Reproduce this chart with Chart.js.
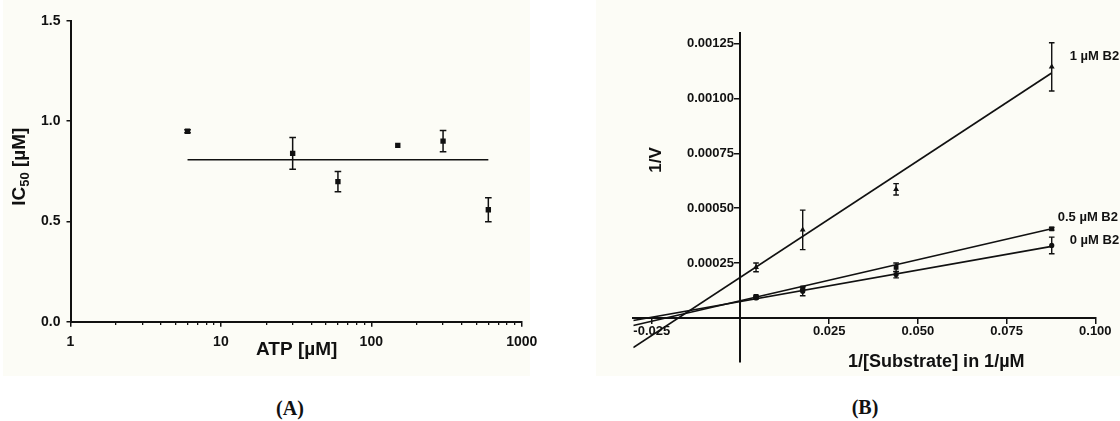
<!DOCTYPE html>
<html>
<head>
<meta charset="utf-8">
<script src="https://cdn.jsdelivr.net/npm/chart.js@4.4.1/dist/chart.umd.min.js"></script>
<style>
  html, body { margin: 0; padding: 0; background: #fff; }
  body { width: 1120px; height: 421px; position: relative; overflow: hidden; }
  .tint { position: absolute; background: #fcfcf6; }
  canvas { position: absolute; top: 0; }
  .caption { position: absolute; font: bold 20px "Liberation Serif", "Times New Roman", serif; color: #111;
             transform: translate(-50%, -50%); white-space: nowrap; }
</style>
</head>
<body>
<div class="tint" style="left:3px;top:0;width:527px;height:376px"></div>
<div class="tint" style="left:596px;top:0;width:524px;height:376px"></div>
<canvas id="chartA" width="560" height="380" style="left:0;width:560px;height:380px"></canvas>
<canvas id="chartB" width="560" height="380" style="left:560px;width:560px;height:380px"></canvas>
<div class="caption" style="left:290px;top:408px">(A)</div>
<div class="caption" style="left:865px;top:407px">(B)</div>
<script>
/* Panel A: IC50 vs ATP */
var atpConc = [6, 30, 60, 150, 300, 600];
var ic50Values = [0.949, 0.839, 0.698, 0.879, 0.900, 0.558];
var ic50Errors = [0.008, 0.079, 0.050, 0, 0.053, 0.060];
var meanLineX = [6, 600];
var meanLineY = [0.807, 0.807];
var yTicksA = [0, 0.5, 1.0, 1.5];
var xDecadesA = [1, 10, 100, 1000];

/* Panel B: double reciprocal plot */
var invSubstrate = [0.00439, 0.01754, 0.04386, 0.08772];
var invV1uM = [0.000230, 0.000401, 0.000586, 0.001144];
var err1uM = [0.000020, 0.000090, 0.000026, 0.000110];
var invV05uM = [0.0000982, 0.000136, 0.000230, 0.000406];
var err05uM = [0.000004, 0.000006, 0.000020, 0.000006];
var invV0uM = [0.0000909, 0.000121, 0.000197, 0.000330];
var err0uM = [0.000005, 0.000020, 0.000015, 0.000038];
var fitX = [-0.0302, 0.0877];
var fit1uM = [-0.000136, 0.001116];
var fit05uM = [-0.000035, 0.000406];
var fit0uM = [-0.000012, 0.000326];
var seriesNames = ['1 \u00b5M B2', '0.5 \u00b5M B2', '0 \u00b5M B2'];
var xTicksB = [-0.025, 0.025, 0.050, 0.075, 0.100];
var yTicksB = [0.00025, 0.00050, 0.00075, 0.00100, 0.00125];

var INK = '#111';
var SANS = '"Liberation Sans", Arial, sans-serif';

function pairUp(xs, ys) {
  var out = [], i;
  for (i = 0; i < xs.length; i++) {
    out.push({x: xs[i], y: ys[i]});
  }
  return out;
}

function fixedTicks(list) {
  return function(scale) {
    scale.ticks = list.map(function(v) { return {value: v}; });
  };
}

/*Dibuja barras de error desde el arreglo errors del dataset*/
var errorBarPlugin = {
  id: 'errorBars',
  afterDatasetsDraw: function(chart, args, opts) {
    var ctx = chart.ctx, xs = chart.scales.x, ys = chart.scales.y;
    chart.data.datasets.forEach(function(ds) {
      if (!ds.errors) return;
      ctx.save();
      ctx.strokeStyle = INK;
      ctx.lineWidth = opts.width || 1.5;
      ds.data.forEach(function(p, i) {
        var e = ds.errors[i], px, top, bot, cap = opts.cap || 3;
        if (!e) return;
        px = xs.getPixelForValue(p.x);
        top = ys.getPixelForValue(p.y + e);
        bot = ys.getPixelForValue(p.y - e);
        ctx.beginPath();
        ctx.moveTo(px, top); ctx.lineTo(px, bot);
        ctx.moveTo(px - cap, top); ctx.lineTo(px + cap, top);
        ctx.moveTo(px - cap, bot); ctx.lineTo(px + cap, bot);
        ctx.stroke();
      });
      ctx.restore();
    });
  }
};

/*Textos libres: titulos de ejes, etiquetas del eje y centrado y de series*/
var textPlugin = {
  id: 'panelText',
  afterDraw: function(chart, args, opts) {
    var ctx = chart.ctx, ys = chart.scales.y, xs = chart.scales.x;
    if (opts.yLabels) {
      ctx.save();
      ctx.fillStyle = INK;
      ctx.font = 'bold ' + opts.yLabels.size + 'px ' + SANS;
      ctx.textAlign = 'right';
      ctx.textBaseline = 'middle';
      opts.yLabels.values.forEach(function(v) {
        ctx.fillText(v.toFixed(opts.yLabels.digits), xs.getPixelForValue(0) - opts.yLabels.gap,
                     ys.getPixelForValue(v));
      });
      ctx.restore();
    }
    (opts.items || []).forEach(function(item) {
      var x = item.x, y = item.y, segs, total = 0, last;
      if (item.dataset !== undefined) {
        last = chart.data.datasets[item.dataset].data;
        last = last[last.length - 1];
        x = xs.getPixelForValue(last.x) + item.dx;
        y = ys.getPixelForValue(last.y) + item.dy;
      }
      segs = item.segments || [{t: item.text, size: item.size}];
      ctx.save();
      ctx.fillStyle = INK;
      ctx.textBaseline = 'middle';
      ctx.translate(x, y);
      if (item.rotate) ctx.rotate(item.rotate);
      segs.forEach(function(s) {
        ctx.font = 'bold ' + s.size + 'px ' + SANS;
        s.w = ctx.measureText(s.t).width;
        total += s.w;
      });
      var cx = item.align === 'left' ? 0 : -total / 2;
      ctx.textAlign = 'left';
      segs.forEach(function(s) {
        ctx.font = 'bold ' + s.size + 'px ' + SANS;
        ctx.fillText(s.t, cx, s.dy || 0);
        cx += s.w;
      });
      ctx.restore();
    });
  }
};

var tickFontA = {family: SANS, size: 14, weight: 'bold'};
var tickFontB = {family: SANS, size: 13, weight: 'bold'};

new Chart(document.getElementById('chartA'), {
  type: 'scatter',
  data: {
    datasets: [{
      data: pairUp(atpConc, ic50Values),
      errors: ic50Errors,
      pointStyle: 'rect', pointRadius: 3.8,
      backgroundColor: INK, borderColor: INK, borderWidth: 0
    }, {
      data: pairUp(meanLineX, meanLineY),
      showLine: true, pointRadius: 0,
      borderColor: INK, borderWidth: 1.6
    }]
  },
  options: {
    responsive: false, animation: false, events: [],
    layout: {padding: {top: 20.7, right: 38.3, left: 0, bottom: 0}},
    plugins: {
      legend: {display: false}, tooltip: {enabled: false},
      errorBars: {width: 1.5, cap: 3.3},
      panelText: {items: [
        {text: 'ATP [\u00b5M]', size: 19, x: 296.7, y: 349.3},
        {x: 20, y: 166.7, rotate: -Math.PI / 2, segments: [
          {t: 'IC', size: 19}, {t: '50', size: 13, dy: 5}, {t: ' [\u00b5M]', size: 19}
        ]}
      ]}
    },
    scales: {
      x: {
        type: 'logarithmic', min: 1, max: 1000,
        afterBuildTicks: fixedTicks(xDecadesA),
        afterFit: function(s) { s.height = 58.3; },
        ticks: {font: tickFontA, color: INK, padding: 7, maxRotation: 0, autoSkip: false,
                callback: function(v) { return String(v); }},
        grid: {drawOnChartArea: false, tickLength: 5, color: INK, lineWidth: 1.5},
        border: {color: INK, width: 2}
      },
      xMinor: {
        axis: 'x', type: 'logarithmic', min: 1, max: 1000, position: {y: 0},
        afterBuildTicks: function(scale) {
          var t = [], d, k;
          for (d = 0; d < xDecadesA.length - 1; d++) {
            for (k = 2; k <= 9; k++) t.push({value: xDecadesA[d] * k});
          }
          scale.ticks = t;
        },
        ticks: {display: false},
        grid: {drawOnChartArea: false, tickLength: 3, color: INK, lineWidth: 1.3},
        border: {display: false}
      },
      y: {
        min: 0, max: 1.5,
        afterBuildTicks: fixedTicks(yTicksA),
        afterFit: function(s) { s.width = 70.5; },
        ticks: {font: tickFontA, color: INK, padding: 6,
                callback: function(v) { return v.toFixed(1); }},
        grid: {drawOnChartArea: false, tickLength: 4, color: INK, lineWidth: 1.5},
        border: {color: INK, width: 2}
      }
    }
  },
  plugins: [errorBarPlugin, textPlugin]
});

new Chart(document.getElementById('chartB'), {
  type: 'scatter',
  data: {
    datasets: [{
      data: pairUp(invSubstrate, invV1uM), errors: err1uM,
      pointStyle: 'triangle', pointRadius: 3.4, backgroundColor: INK, borderColor: INK, borderWidth: 0
    }, {
      data: pairUp(invSubstrate, invV05uM), errors: err05uM,
      pointStyle: 'rect', pointRadius: 3.4, backgroundColor: INK, borderColor: INK, borderWidth: 0
    }, {
      data: pairUp(invSubstrate, invV0uM), errors: err0uM,
      pointStyle: 'circle', pointRadius: 2.6, backgroundColor: INK, borderColor: INK, borderWidth: 0
    }, {
      data: pairUp(fitX, fit1uM), showLine: true, pointRadius: 0, borderColor: INK, borderWidth: 1.7
    }, {
      data: pairUp(fitX, fit05uM), showLine: true, pointRadius: 0, borderColor: INK, borderWidth: 1.7
    }, {
      data: pairUp(fitX, fit0uM), showLine: true, pointRadius: 0, borderColor: INK, borderWidth: 1.7
    }]
  },
  options: {
    responsive: false, animation: false, events: [],
    layout: {padding: {top: 32.7, right: 24.7, left: 73.3, bottom: 18.3}},
    plugins: {
      legend: {display: false}, tooltip: {enabled: false},
      errorBars: {width: 1.4, cap: 2.8},
      panelText: {
        yLabels: {values: yTicksB, digits: 5, size: 13, gap: 6.5},
        items: [
          {text: '1/V', size: 17, x: 96.4, y: 160, rotate: -Math.PI / 2},
          {text: '1/[Substrate] in 1/\u00b5M', size: 18, x: 376.3, y: 361.7},
          {text: seriesNames[0], size: 13, dataset: 0, dx: 18, dy: -10, align: 'left'},
          {text: seriesNames[1], size: 13, dataset: 1, dx: 6, dy: -11, align: 'left'},
          {text: seriesNames[2], size: 13, dataset: 2, dx: 18, dy: -5, align: 'left'}
        ]
      }
    },
    scales: {
      x: {
        type: 'linear', min: -0.0302, max: 0.1, position: {y: 0},
        afterBuildTicks: fixedTicks(xTicksB),
        ticks: {font: tickFontB, color: INK, padding: 1, maxRotation: 0, autoSkip: false,
                callback: function(v) { return v.toFixed(3); }},
        grid: {drawOnChartArea: false, tickLength: 5, color: INK, lineWidth: 1.5},
        border: {color: INK, width: 2}
      },
      y: {
        type: 'linear', min: -0.0002, max: 0.0013, position: {x: 0},
        afterBuildTicks: fixedTicks(yTicksB),
        ticks: {display: false},
        grid: {drawOnChartArea: false, tickLength: 5, color: INK, lineWidth: 1.5},
        border: {color: INK, width: 2}
      }
    }
  },
  plugins: [errorBarPlugin, textPlugin]
});
</script>
</body>
</html>
